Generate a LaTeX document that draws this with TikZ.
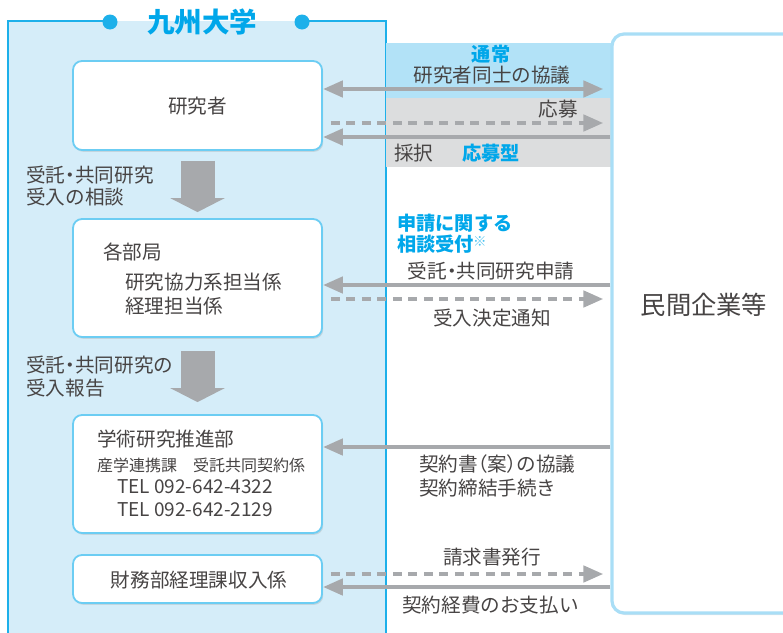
\documentclass[tikz,border=0pt]{standalone}
\usepackage{fontspec}
\setmainfont{Noto Sans CJK JP}
\newfontfamily\paltfont{Noto Sans CJK JP}[RawFeature=+palt]
\usetikzlibrary{arrows.meta,shadows,calc}
\definecolor{framefill}{HTML}{D5EDF9}
\definecolor{framecyan}{HTML}{1DB0EA}
\definecolor{boxcyan}{HTML}{6CCDF3}
\definecolor{kigcyan}{HTML}{A9DEF6}
\definecolor{bandblue}{HTML}{B2E2F7}
\definecolor{bandgray}{HTML}{DCDDDE}
\definecolor{arrgray}{HTML}{A7A9AC}
\definecolor{txtgray}{HTML}{474444}
\definecolor{titlecyan}{HTML}{00A7EA}
\definecolor{notecyan}{HTML}{4FC3F0}
\tikzset{
  box/.style={draw=boxcyan, line width=1.8pt, fill=white, rounded corners=9pt,
    minimum width=249pt, drop shadow={opacity=0.22, shadow xshift=1.2pt, shadow yshift=-1.8pt}},
  kbox/.style={draw=kigcyan, line width=3.2pt, fill=white, rounded corners=12pt,
    drop shadow={opacity=0.18, shadow xshift=1pt, shadow yshift=-2pt}},
  txt/.style={font=\fontsize{19.6}{22}\selectfont, text=txtgray, inner sep=0pt},
  teltxt/.style={font=\fontsize{19}{22}\selectfont, text=txtgray, inner sep=0pt},
  smalltxt/.style={font=\fontsize{16}{18}\selectfont, text=txtgray, inner sep=0pt},
  bigtxt/.style={font=\fontsize{25.3}{28}\selectfont, text=txtgray, inner sep=0pt},
  cyantxt/.style={font=\fontsize{19.2}{22}\selectfont\bfseries, text=titlecyan, inner sep=0pt},
  arr/.style={draw=arrgray, line width=4.5pt, -{Triangle[length=20pt,width=16pt]}},
  biarr/.style={draw=arrgray, line width=4.5pt, {Triangle[length=20pt,width=16pt]}-{Triangle[length=20pt,width=16pt]}},
  dasharr/.style={arr, dash pattern=on 9pt off 6.5pt},
  bigdown/.style={draw=arrgray, line width=34pt, -{Triangle[length=14pt,width=54pt]}},
}
\begin{document}
\begin{tikzpicture}[x=1pt,y=-1pt]
\useasboundingbox (0,0) rectangle (783,632);
% university frame
\fill[framefill] (8,21) rectangle (386,650);
\draw[framecyan, line width=1.6pt] (8,650) -- (8,21) -- (110,21);
\draw[framecyan, line width=1.6pt] (302,21) -- (386,21) -- (386,650);
\fill[framecyan] (110,22) circle (7.5);
\fill[framecyan] (302,22) circle (7.5);
\node[font=\fontsize{27.5}{30}\selectfont\bfseries, text=titlecyan, inner sep=0pt] (title) at (202,22) {九州大学};
% bands
\fill[bandblue] (386,43) rectangle (612,98);
\fill[bandgray] (386,98) rectangle (612,167);
% company box
\node[kbox, minimum width=190pt, minimum height=579pt] (kig) at (707,323.5) {};
\node[bigtxt] (kigtxt) at (704,305) {民間企業等};
% university boxes
\node[box, minimum height=89pt] (ken) at (197.5,105.5) {};
\node[txt] (kentxt) at (197.5,106) {研究者};
\node[box, minimum height=118pt] (kaku) at (197.5,278) {};
\node[txt, anchor=west] (kaku1) at (103,252) {各部局};
\node[txt, anchor=west] (kaku2) at (125,282) {研究協力系担当係};
\node[txt, anchor=west] (kaku3) at (125,306) {経理担当係};
\node[box, minimum height=118pt] (gaku) at (197.5,474) {};
\node[txt, anchor=west] (gaku1) at (97,439) {学術研究推進部};
\node[smalltxt, anchor=west] (gaku2) at (97,465) {産学連携課\hspace{1em}受託共同契約係};
\node[teltxt, anchor=west] (gaku3) at (117,487) {TEL 092-642-4322};
\node[teltxt, anchor=west] (gaku4) at (117,510) {TEL 092-642-2129};
\node[box, minimum height=48pt] (zai) at (197.5,579) {};
\node[txt] (zaitxt) at (199,580) {財務部経理課収入係};
% big down arrows
\draw[bigdown, shorten <=10pt, shorten >=6pt] (ken.south) -- (kaku.north);
\draw[bigdown, shorten <=13pt, shorten >=12pt] (kaku.south) -- (gaku.north);
\node[txt, anchor=west] (l1a) at (26,175) {\paltfont 受託・共同研究};
\node[txt, anchor=west] (l1b) at (26,197) {受入の相談};
\node[txt, anchor=west] (l2a) at (26,365) {\paltfont 受託・共同研究の};
\node[txt, anchor=west] (l2b) at (26,388) {受入報告};
% helper coordinates
\coordinate (y1) at (0,89);
\coordinate (y2) at (0,123);
\coordinate (y3) at (0,137);
\coordinate (y4) at (0,285);
\coordinate (y5) at (0,299);
\coordinate (y6) at (0,447);
\coordinate (y7) at (0,574);
\coordinate (y8) at (0,587);
% horizontal arrows
\draw[biarr, shorten >=7pt] (ken.east |- y1) -- (kig.west |- y1);
\draw[dasharr, shorten <=8pt, shorten >=7pt] (ken.east |- y2) -- (kig.west |- y2);
\draw[arr] (kig.west |- y3) -- (ken.east |- y3);
\draw[arr] (kig.west |- y4) -- (kaku.east |- y4);
\draw[dasharr, shorten <=8pt, shorten >=7pt] (kaku.east |- y5) -- (kig.west |- y5);
\draw[arr] (kig.west |- y6) -- (gaku.east |- y6);
\draw[dasharr, shorten <=8pt, shorten >=7pt] (zai.east |- y7) -- (kig.west |- y7);
\draw[arr] (kig.west |- y8) -- (zai.east |- y8);
% labels on right
\node[cyantxt] (t1) at (491,54) {通常};
\node[txt] (t2) at (492,75) {研究者同士の協議};
\node[txt, anchor=east] (t3) at (578,109) {応募};
\node[txt, anchor=west] (t4) at (394,153) {採択};
\node[cyantxt, anchor=west] (t5) at (462,153) {応募型};
\node[cyantxt, anchor=west] (t6) at (397,223) {申請に関する};
\node[cyantxt, anchor=west] (t7) at (397,244) {相談受付\hspace{-1pt}\textcolor{notecyan}{\raisebox{5pt}{\fontsize{13.5}{14}\selectfont\mdseries ※}}};
\node[txt] (t8) at (491,271) {\paltfont 受託・共同研究申請};
\node[txt] (t9) at (492,318) {受入決定通知};
\node[txt, anchor=west] (t10) at (419,464) {\paltfont 契約書（案）の協議};
\node[txt, anchor=west] (t11) at (419,488) {契約締結手続き};
\node[txt] (t12) at (492,557) {請求書発行};
\node[txt, anchor=west] (t13) at (402,605) {契約経費のお支払い};
\end{tikzpicture}
\end{document}
